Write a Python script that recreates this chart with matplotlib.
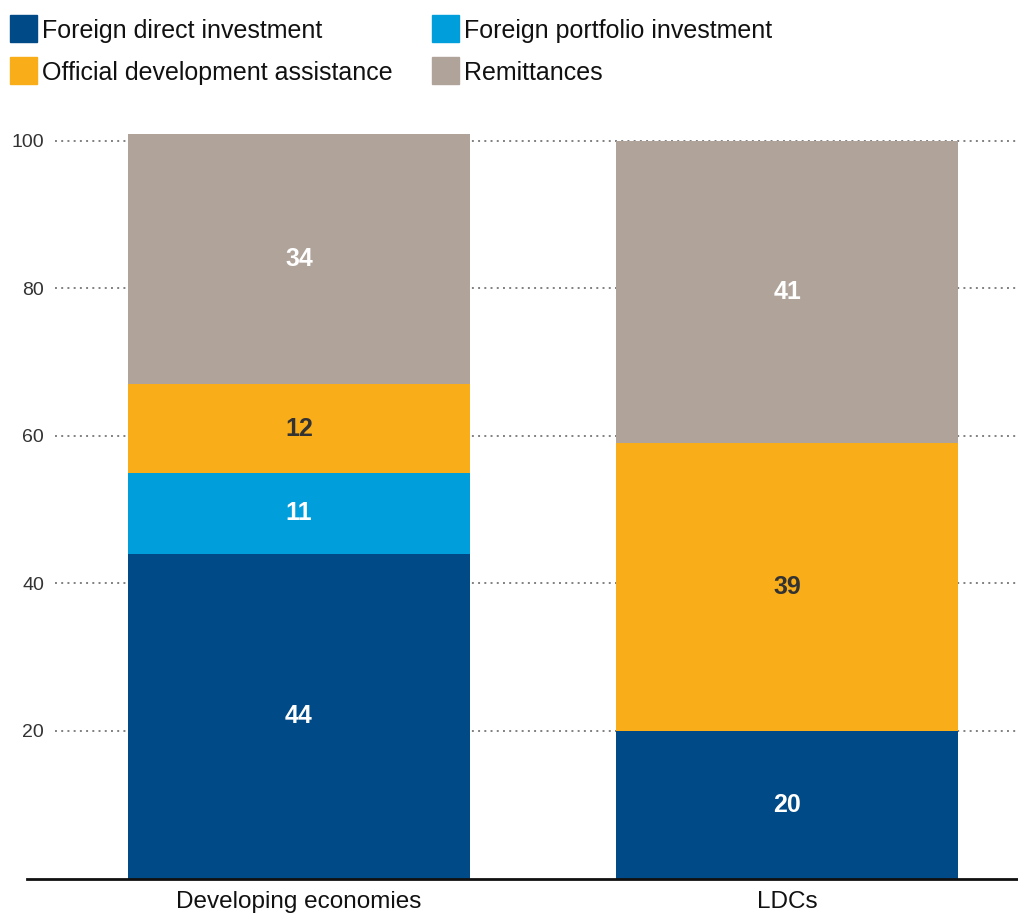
import matplotlib
matplotlib.use("Agg")
import matplotlib.pyplot as plt
from matplotlib.patches import Rectangle
from matplotlib import font_manager

names = {f.name for f in font_manager.fontManager.ttflist}
narrow = 'Liberation Sans Narrow' if 'Liberation Sans Narrow' in names else 'Liberation Sans'
plt.rcParams['font.family'] = [narrow, 'DejaVu Sans']

# data
groups = ["Developing economies", "LDCs"]
series = ["Foreign direct investment", "Foreign portfolio investment",
          "Official development assistance", "Remittances"]
fdi = [44, 20]
fpi = [11, 0]
oda = [12, 39]
remit = [34, 41]
yticks = [20, 40, 60, 80, 100]

colors = ["#004a87", "#009fdb", "#f9ae19", "#afa39a"]
label_colors = ["white", "white", "#333333", "white"]

W, H = 1018, 913
fig = plt.figure(figsize=(W / 100, H / 100), dpi=100)
ax = fig.add_axes([27 / W, 34.5 / H, 1 - 27 / W, 774.4 / H])

x = [0, 1]
xmin, xmax = -0.557, 1.473
ax.set_xlim(xmin, xmax)
ax.set_ylim(0, 105)

# dotted gridlines, starting just right of the tick labels
ax.hlines(yticks, -0.5, xmax, colors="#808080", linestyles=(0, (1, 2.2)),
          linewidth=1.4, zorder=0)

bottoms = [0, 0]
for vals, c, lc in zip([fdi, fpi, oda, remit], colors, label_colors):
    ax.bar(x, vals, width=0.70, bottom=bottoms, color=c, zorder=2)
    for xi, v, b in zip(x, vals, bottoms):
        if v > 0:
            ax.text(xi, b + v / 2, str(v), ha="center", va="center",
                    color=lc, fontsize=18, fontweight="bold", zorder=3)
    bottoms = [b + v for b, v in zip(bottoms, vals)]

for s in ["top", "right", "left"]:
    ax.spines[s].set_visible(False)
ax.spines["bottom"].set_linewidth(2)
ax.spines["bottom"].set_color("#111111")

ax.set_yticks(yticks)
ax.set_yticklabels([str(t) for t in yticks])
ax.tick_params(axis="y", length=0, pad=-12.2, labelsize=14, labelcolor="#333333")
for lbl in ax.get_yticklabels():
    lbl.set_horizontalalignment("right")
ax.set_xticks(x)
ax.set_xticklabels(groups)
ax.tick_params(axis="x", length=0, pad=9, labelsize=17.5, labelcolor="#111111")

# legend
pos = [(10, 15), (432, 15), (10, 57), (432, 57)]
for (px, py), name, c in zip(pos, series, colors):
    fig.patches.append(Rectangle((px / W, 1 - (py + 27) / H), 27 / W, 27 / H,
                                 transform=fig.transFigure, color=c))
    fig.text((px + 32) / W, 1 - (py + 16) / H, name, ha="left", va="center",
             fontsize=18, color="#111111")

fig.savefig("out.png", dpi=100)
